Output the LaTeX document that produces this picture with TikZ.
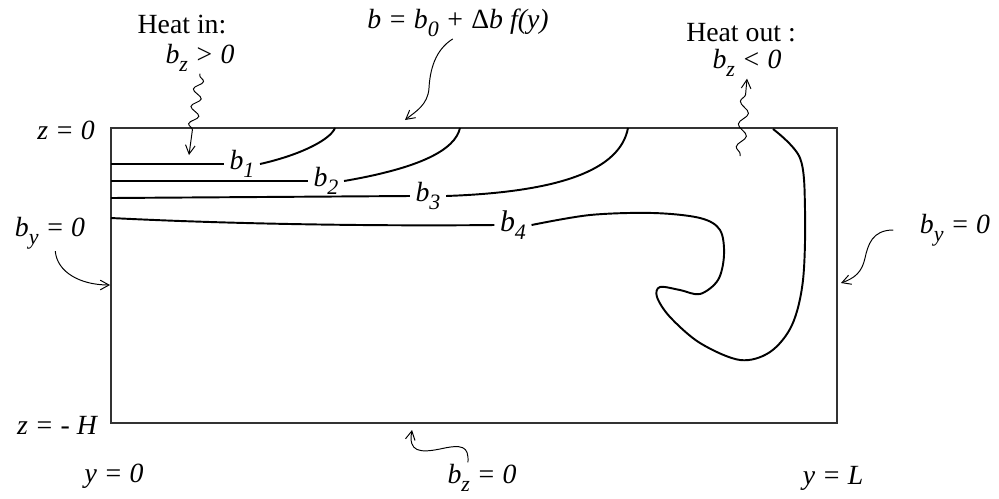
\documentclass[tikz,border=0pt]{standalone}
\usepackage{fontspec}
\setmainfont{Liberation Serif}
\usetikzlibrary{arrows.meta,decorations.pathmorphing}

\begin{document}
\begin{tikzpicture}[
  x=0.02cm, y=-0.02cm,
  font=\fontsize{15.8}{18}\selectfont,
  txt/.style={inner sep=1pt},
  lbl/.style={inner sep=1pt, font=\fontsize{15.8}{18}\selectfont\itshape},
  tag/.style={inner sep=3pt, font=\fontsize{15.8}{18}\selectfont\itshape},
  wall/.style={draw=black!80, line width=0.75pt},
  iso/.style={line width=1.1pt},
  arr/.style={-{Straight Barb[length=5pt,width=5.5pt]}, line width=0.55pt},
  wavy/.style={decorate, decoration={snake, amplitude=2.6pt, segment length=#1,
               pre length=1pt, post length=8pt}},
]
% ---- subscript macro: #1 text ----
\newcommand{\lo}[1]{\raisebox{-4.5pt}{\fontsize{12.5}{13}\selectfont #1}}
\useasboundingbox (0,0) rectangle (999,498);

% ---- domain ----
\draw[wall] (111,128) rectangle (837,423);

% ---- boundary labels ----
\node[txt] (hin)   at (182,25)  {Heat in:};
\node[lbl] (hinz)  at (200,58)  {b\lo{z} > 0};
\node[lbl] (bdef)  at (458,23)  {b = b\lo{0} + {\upshape Δ}b f(y)};
\node[txt] (hout)  at (741,33)  {Heat out :};
\node[lbl] (houtz) at (747,63)  {b\lo{z} < 0};
\node[lbl] (ztop)  at (66,130)  {z = 0};
\node[lbl] (byl)   at (50,233)  {b\lo{y} = 0};
\node[lbl] (byr)   at (955,230) {b\lo{y} = 0};
\node[lbl] (zbot)  at (57,425)  {z = - H};
\node[lbl] (y0)    at (114,476) {y = 0};
\node[lbl] (bzb)   at (482,478) {b\lo{z} = 0};
\node[lbl] (yL)    at (833,478) {y = L};

% ---- isolines ----
\node[tag] (b1) at (242,164) {b\lo{1}};
\node[tag] (b2) at (326,181) {b\lo{2}};
\node[tag] (b3) at (428,196) {b\lo{3}};
\node[tag,font=\fontsize{17}{18}\selectfont\itshape] (b4) at (513,225) {b\lo{4}};

\draw[iso] (111,164) -- (b1.west);
\draw[iso] (b1.east) .. controls (300,155) and (330,140) .. (335,128);
\draw[iso] (111,181) -- (b2.west);
\draw[iso] (b2.east) .. controls (420,168) and (455,150) .. (460,128);
\draw[iso] (111,198) -- (b3.west);
\draw[iso] (b3.east) .. controls (560,192) and (620,170) .. (628,128);
\draw[iso] (111,218) .. controls (250,225) and (400,226) .. (b4.west);
\draw[iso] plot[smooth, tension=0.55] coordinates {(b4.east) (590,215) (653,213)
  (700,218) (720,230) (724,255) (718,280) (700,294) (680,290) (660,287) (657,297)
  (670,317) (700,343) (740,360) (770,352) (792,325) (803,280) (805,210) (800,158)
  (773,129)};

% ---- arrow ends ----
\coordinate (hintip)   at (189,155);
\coordinate (bdtip)    at (405,120);
\coordinate (houtfoot) at (740,156);
\coordinate (byltip)   at (110,285);
\coordinate (byrtip)   at (841,283);
\coordinate (bztip)    at (412,430);

% ---- arrows ----
\draw[arr,wavy=10pt,decoration={post length=14pt}] (hinz.south) -- (hintip);
\draw[arr] ([xshift=-3pt]bdef.south) .. controls (435,50) and (430,70) .. (429,88)
  .. controls (428,105) and (415,112) .. (bdtip);
\draw[arr,wavy=13pt,decoration={post length=5pt}] (houtfoot) -- (houtz.south);
\draw[arr] ([xshift=3pt]byl.south) .. controls (57,272) and (80,285) .. (byltip);
\draw[arr] ([xshift=-14pt]byr.west) .. controls (872,230) and (868,245) .. (865,258)
  .. controls (862,272) and (855,278) .. (byrtip);
\draw[arr] ([xshift=-8pt]bzb.north) .. controls (469,446) and (462,444) .. (440,449)
  .. controls (420,453) and (408,452) .. (bztip);

\end{tikzpicture}
\end{document}
